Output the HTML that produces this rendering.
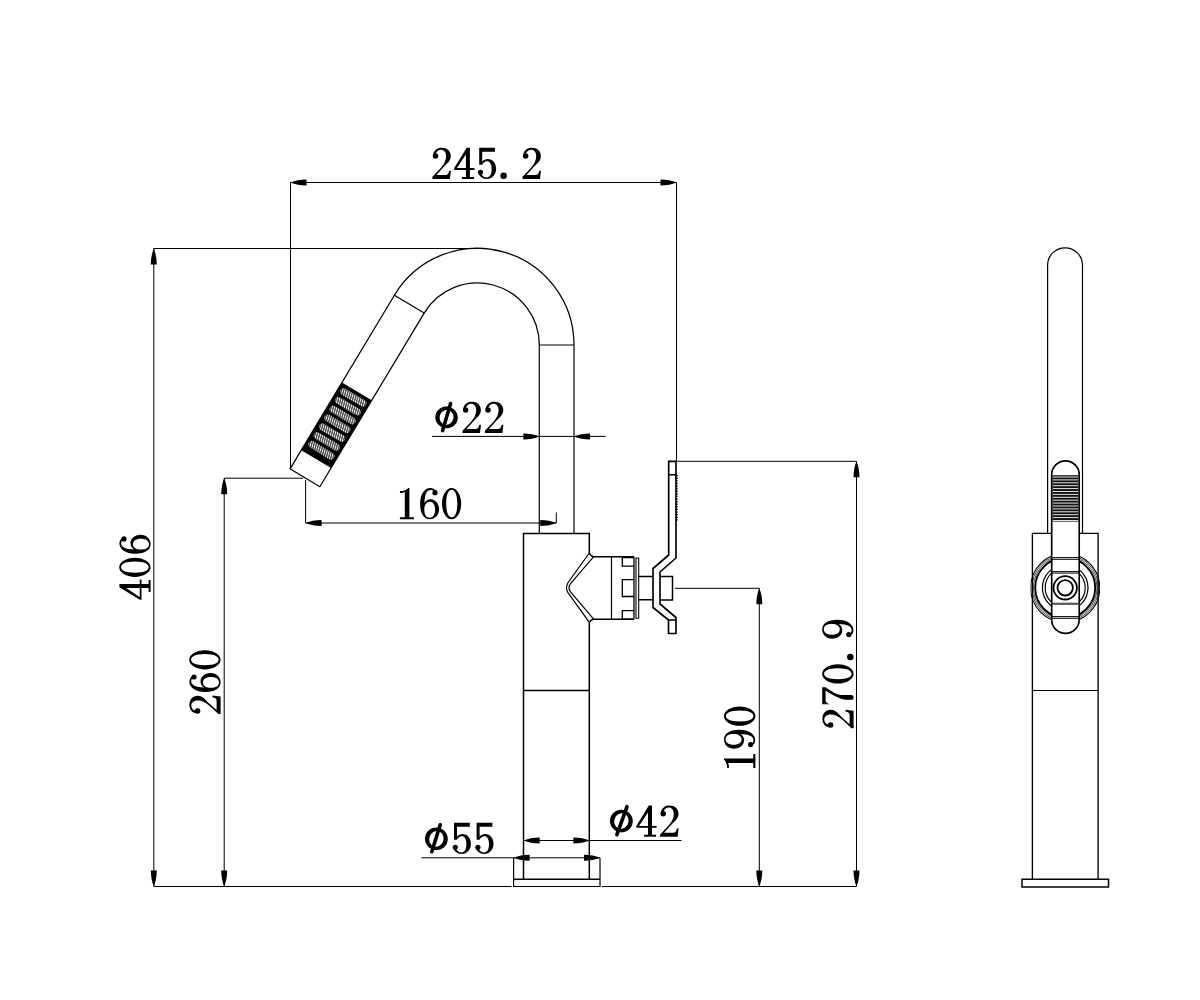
<!DOCTYPE html>
<html><head><meta charset="utf-8"><style>
html,body{margin:0;padding:0;background:#fff;}
svg{position:absolute;left:0;top:0;will-change:transform;}
text{font-family:"Liberation Serif",serif;font-size:48px;fill:#000;}
</style></head><body>
<svg width="1200" height="1000" viewBox="0 0 1200 1000">
<defs><g id="g0"><path fill-rule="evenodd" d="M9.6,0.2 C14.9,0.2 19.2,7.3 19.2,15.9 C19.2,24.5 14.9,31.6 9.6,31.6 C4.3,31.6 0,24.5 0,15.9 C0,7.3 4.3,0.2 9.6,0.2 Z M9.7,2.1 C7.0,2.1 4.2,5.6 4.2,15.9 C4.2,26.2 7.0,29.6 9.7,29.6 C12.4,29.6 15.3,26.2 15.3,15.9 C15.3,5.6 12.4,2.1 9.7,2.1 Z"/></g><g id="g1"><path d="M9.7,0.2 L9.7,29.5 C9.7,29.5 14.2,29.4 14.2,29.6 L14.2,31.6 L0.2,31.6 L0.2,29.6 C0.2,29.4 5.1,29.5 5.1,29.5 L5.1,4.2 C3.9,5.0 2.3,5.2 0.3,5.2 L0.2,3.4 C3.4,3.4 6.4,2.3 8.6,0.2 Z"/></g><g id="g2"><path d="M0.9,7.6 C1.3,3.0 5.0,0.4 9.5,0.4 C14.8,0.4 18.5,3.8 18.5,8.6 C18.5,12.9 15.6,15.6 12.0,18.8 L4.1,27.6 L13.4,27.6 C15.2,27.6 16.3,26.6 16.9,23.4 L18.6,23.4 L17.6,31.6 L0.1,31.6 L0.1,29.4 L8.0,21.0 C12.0,16.8 13.8,13.0 13.8,8.8 C13.8,4.6 11.6,2.3 8.8,2.3 C6.4,2.3 4.6,3.5 3.8,5.8 Z"/><circle cx="3.2" cy="8.6" r="2.75"/></g><g id="g4"><path fill-rule="evenodd" d="M12.5,0.4 L15.7,0.4 L15.7,20.7 L20.3,20.7 L20.3,22.5 L15.7,22.5 L15.7,29.6 L19.8,29.6 L19.8,31.6 L7.8,31.6 L7.8,29.6 L11.7,29.6 L11.7,22.5 L0,22.5 L0,20.7 Z M11.7,7.2 L11.7,20.7 L2.7,20.7 Z"/></g><g id="g5"><path d="M2.4,0.4 L17.4,0.4 L17.4,4.3 L4.6,4.3 L4.6,14.3 C6.1,12.5 8.0,11.5 10.2,11.5 C15.0,11.5 18.5,15.6 18.5,21.4 C18.5,27.4 14.6,31.6 9.2,31.6 C4.8,31.6 1.2,28.6 0.5,24.6 L3.0,24.4 C3.6,27.9 6.0,30.0 9.0,30.0 C12.4,30.0 14.0,27.0 14.0,21.4 C14.0,16.4 12.0,13.9 9.6,13.9 C7.4,13.9 5.6,15.3 4.5,17.3 L1.6,17.3 L1.6,0.4 Z"/><circle cx="2.9" cy="24.8" r="2.55"/></g><g id="g6"><path fill-rule="evenodd" d="M15.6,3.0 C14.6,1.2 12.6,0.4 10.3,0.4 C4.6,0.4 0.1,6.5 0.1,16.4 C0.1,26.0 4.2,31.6 9.6,31.6 C15.0,31.6 19.1,27.4 19.1,21.6 C19.1,15.8 15.1,11.5 10.6,11.5 C7.9,11.5 5.6,12.9 4.5,15.2 C4.6,6.6 7.0,2.2 10.4,2.2 C12.0,2.2 13.3,2.7 14.0,3.6 Z M9.6,14.0 C12.8,14.0 15.1,16.6 15.1,21.8 C15.1,27.0 13.0,30.0 9.6,30.0 C6.0,30.0 4.3,27.0 4.3,21.8 C4.3,17.3 6.3,14.0 9.6,14.0 Z"/><circle cx="15.0" cy="5.0" r="2.6"/></g><g id="g9"><g transform="translate(19.2,31.8) rotate(180)"><path fill-rule="evenodd" d="M15.6,3.0 C14.6,1.2 12.6,0.4 10.3,0.4 C4.6,0.4 0.1,6.5 0.1,16.4 C0.1,26.0 4.2,31.6 9.6,31.6 C15.0,31.6 19.1,27.4 19.1,21.6 C19.1,15.8 15.1,11.5 10.6,11.5 C7.9,11.5 5.6,12.9 4.5,15.2 C4.6,6.6 7.0,2.2 10.4,2.2 C12.0,2.2 13.3,2.7 14.0,3.6 Z M9.6,14.0 C12.8,14.0 15.1,16.6 15.1,21.8 C15.1,27.0 13.0,30.0 9.6,30.0 C6.0,30.0 4.3,27.0 4.3,21.8 C4.3,17.3 6.3,14.0 9.6,14.0 Z"/><circle cx="15.0" cy="5.0" r="2.6"/></g></g><g id="g7"><path d="M0.3,0.2 L17.4,0.2 L17.4,3.6 C13.6,9.0 10.0,14.5 9.6,19.2 L9.6,29.2 C9.5,30.8 8.5,31.6 7.2,31.6 C5.9,31.6 4.8,30.8 4.8,29.2 L4.9,24.0 C5.2,19.0 8.0,13.0 14.2,3.6 L3.8,3.6 C2.0,4.2 0.9,5.5 0.4,7.8 L0.3,7.8 Z"/></g><g id="gdot"><circle cx="3.2" cy="28.3" r="3.25"/></g><pattern id="hatch" width="2.2" height="4" patternUnits="userSpaceOnUse" patternTransform="rotate(-16)"><rect width="2.2" height="4" fill="#000"/><rect x="0.5" width="1.2" height="4" fill="#fff"/></pattern><clipPath id="clipout"><path d="M1030.5,540 H1051.7 V640 H1030.5 Z M1079.2,540 H1100 V640 H1079.2 Z"/></clipPath></defs>
<rect width="1200" height="1000" fill="#fff"/>
<line x1="290.5" y1="182.5" x2="676.5" y2="182.5" stroke="#000" stroke-width="1.0"/>
<path d="M290.5,182.5 Q297.22,179.65 306.50,179.50 L306.50,185.50 Q297.22,185.35 290.5,182.5 Z" fill="#000"/>
<path d="M676.5,182.5 Q669.78,185.35 660.50,185.50 L660.50,179.50 Q669.78,179.65 676.5,182.5 Z" fill="#000"/>
<line x1="290.5" y1="182.5" x2="290.5" y2="468" stroke="#000" stroke-width="1.0"/>
<line x1="676.5" y1="182.5" x2="676.5" y2="461.5" stroke="#000" stroke-width="1.0"/>
<use href="#g2" transform="translate(432.30,147.40)"/>
<use href="#g4" transform="translate(454.20,147.40)"/>
<use href="#g5" transform="translate(477.60,147.40)"/>
<use href="#gdot" transform="translate(500.40,147.40)"/>
<use href="#g2" transform="translate(522.40,147.40)"/>
<line x1="153.8" y1="248.5" x2="153.8" y2="886.5" stroke="#000" stroke-width="1.0"/>
<path d="M153.8,248.5 Q156.65,255.22 156.80,264.50 L150.80,264.50 Q150.95,255.22 153.8,248.5 Z" fill="#000"/>
<path d="M153.8,886.5 Q150.95,879.78 150.80,870.50 L156.80,870.50 Q156.65,879.78 153.8,886.5 Z" fill="#000"/>
<line x1="153.8" y1="248.5" x2="478" y2="248.5" stroke="#000" stroke-width="1.0"/>
<use href="#g4" transform="translate(119.00,599.80) rotate(-90)"/>
<use href="#g0" transform="translate(119.00,576.90) rotate(-90)"/>
<use href="#g6" transform="translate(119.00,553.90) rotate(-90)"/>
<line x1="224.2" y1="478.2" x2="224.2" y2="886.5" stroke="#000" stroke-width="1.0"/>
<path d="M224.2,478.2 Q227.05,484.92 227.20,494.20 L221.20,494.20 Q221.35,484.92 224.2,478.2 Z" fill="#000"/>
<path d="M224.2,886.5 Q221.35,879.78 221.20,870.50 L227.20,870.50 Q227.05,879.78 224.2,886.5 Z" fill="#000"/>
<line x1="224.2" y1="478.2" x2="303.0" y2="478.2" stroke="#000" stroke-width="1.0"/>
<use href="#g2" transform="translate(189.00,714.20) rotate(-90)"/>
<use href="#g6" transform="translate(189.00,692.00) rotate(-90)"/>
<use href="#g0" transform="translate(189.00,669.40) rotate(-90)"/>
<line x1="305.6" y1="480.0" x2="305.6" y2="523" stroke="#000" stroke-width="1.0"/>
<line x1="305.6" y1="523" x2="556.3" y2="523" stroke="#000" stroke-width="1.0"/>
<path d="M305.6,523 Q312.32,520.15 321.60,520.00 L321.60,526.00 Q312.32,525.85 305.6,523 Z" fill="#000"/>
<path d="M556.3,523 Q549.58,525.85 540.30,526.00 L540.30,520.00 Q549.58,520.15 556.3,523 Z" fill="#000"/>
<line x1="556.3" y1="512.5" x2="556.3" y2="523" stroke="#000" stroke-width="1.0"/>
<use href="#g1" transform="translate(399.70,487.70)"/>
<use href="#g6" transform="translate(420.00,487.70)"/>
<use href="#g0" transform="translate(442.00,487.70)"/>
<line x1="432" y1="436.4" x2="605.6" y2="436.4" stroke="#000" stroke-width="1.0"/>
<path d="M539.4,436.4 Q532.68,439.25 523.40,439.40 L523.40,433.40 Q532.68,433.55 539.4,436.4 Z" fill="#000"/>
<path d="M574,436.4 Q580.72,433.55 590.00,433.40 L590.00,439.40 Q580.72,439.25 574,436.4 Z" fill="#000"/>
<path d="M457.34,420.55 L456.84,421.88 L456.17,423.13 L455.34,424.28 L454.35,425.32 L453.23,426.22 L452.00,426.97 L450.67,427.55 L449.27,427.96 L447.83,428.18 L446.36,428.23 L444.90,428.08 L443.47,427.75 L442.09,427.25 L440.78,426.57 L439.57,425.74 L438.49,424.76 L437.54,423.66 L436.74,422.45 L436.12,421.15 L435.67,419.78 L435.41,418.38 L435.33,416.96 L435.45,415.54 L435.76,414.15 L436.26,412.82 L436.93,411.57 L437.76,410.42 L438.75,409.38 L439.87,408.48 L441.10,407.73 L442.43,407.15 L443.83,406.74 L445.27,406.52 L446.74,406.47 L448.20,406.62 L449.63,406.95 L451.01,407.45 L452.32,408.13 L453.53,408.96 L454.61,409.94 L455.56,411.04 L456.36,412.25 L456.98,413.55 L457.43,414.92 L457.69,416.32 L457.77,417.74 L457.65,419.16 Z M453.12,419.30 L452.79,420.21 L452.35,421.08 L451.81,421.88 L451.18,422.61 L450.47,423.24 L449.70,423.78 L448.87,424.20 L448.00,424.51 L447.11,424.69 L446.21,424.75 L445.31,424.69 L444.43,424.49 L443.59,424.18 L442.81,423.75 L442.08,423.20 L441.43,422.56 L440.87,421.83 L440.41,421.02 L440.05,420.15 L439.80,419.24 L439.67,418.29 L439.66,417.32 L439.76,416.35 L439.98,415.40 L440.31,414.49 L440.75,413.62 L441.29,412.82 L441.92,412.09 L442.63,411.46 L443.40,410.92 L444.23,410.50 L445.10,410.19 L445.99,410.01 L446.89,409.95 L447.79,410.01 L448.67,410.21 L449.51,410.52 L450.29,410.95 L451.02,411.50 L451.67,412.14 L452.23,412.87 L452.69,413.68 L453.05,414.55 L453.30,415.46 L453.43,416.41 L453.44,417.38 L453.34,418.35 Z" fill="#000" fill-rule="evenodd"/>
<line x1="450.6" y1="403.6" x2="442.6" y2="430.6" stroke="#000" stroke-width="3.6" stroke-linecap="round"/>
<use href="#g2" transform="translate(462.40,401.40)"/>
<use href="#g2" transform="translate(484.80,401.40)"/>
<line x1="759.3" y1="588.3" x2="759.3" y2="886.5" stroke="#000" stroke-width="1.0"/>
<path d="M759.3,588.3 Q762.15,595.02 762.30,604.30 L756.30,604.30 Q756.45,595.02 759.3,588.3 Z" fill="#000"/>
<path d="M759.3,886.5 Q756.45,879.78 756.30,870.50 L762.30,870.50 Q762.15,879.78 759.3,886.5 Z" fill="#000"/>
<line x1="675" y1="588.3" x2="759.3" y2="588.3" stroke="#000" stroke-width="1.0"/>
<use href="#g1" transform="translate(723.80,768.20) rotate(-90)"/>
<use href="#g9" transform="translate(723.80,748.80) rotate(-90)"/>
<use href="#g0" transform="translate(723.80,725.80) rotate(-90)"/>
<line x1="856.5" y1="461.3" x2="856.5" y2="886.5" stroke="#000" stroke-width="1.0"/>
<path d="M856.5,461.3 Q859.35,468.02 859.50,477.30 L853.50,477.30 Q853.65,468.02 856.5,461.3 Z" fill="#000"/>
<path d="M856.5,886.5 Q853.65,879.78 853.50,870.50 L859.50,870.50 Q859.35,879.78 856.5,886.5 Z" fill="#000"/>
<line x1="676" y1="461.3" x2="856.5" y2="461.3" stroke="#000" stroke-width="1.0"/>
<use href="#g2" transform="translate(822.00,728.30) rotate(-90)"/>
<use href="#g7" transform="translate(822.00,704.60) rotate(-90)"/>
<use href="#g0" transform="translate(822.00,683.50) rotate(-90)"/>
<use href="#gdot" transform="translate(822.00,660.10) rotate(-90)"/>
<use href="#g9" transform="translate(822.00,638.80) rotate(-90)"/>
<line x1="153.8" y1="886.5" x2="511.5" y2="886.5" stroke="#000" stroke-width="1.0"/>
<line x1="602" y1="886.5" x2="856.5" y2="886.5" stroke="#000" stroke-width="1.0"/>
<line x1="523.7" y1="840.5" x2="681.5" y2="840.5" stroke="#000" stroke-width="1.0"/>
<path d="M523.7,840.5 Q530.42,837.65 539.70,837.50 L539.70,843.50 Q530.42,843.35 523.7,840.5 Z" fill="#000"/>
<path d="M589.4,840.5 Q582.68,843.35 573.40,843.50 L573.40,837.50 Q582.68,837.65 589.4,840.5 Z" fill="#000"/>
<path d="M632.13,824.91 L631.54,826.26 L630.78,827.52 L629.85,828.67 L628.78,829.69 L627.59,830.56 L626.29,831.27 L624.90,831.80 L623.46,832.15 L621.97,832.31 L620.48,832.28 L619.01,832.05 L617.57,831.64 L616.20,831.04 L614.92,830.28 L613.74,829.35 L612.70,828.29 L611.81,827.10 L611.08,825.80 L610.53,824.43 L610.16,823.00 L609.99,821.53 L610.00,820.06 L610.22,818.60 L610.62,817.19 L611.21,815.84 L611.97,814.58 L612.90,813.43 L613.97,812.41 L615.16,811.54 L616.46,810.83 L617.85,810.30 L619.29,809.95 L620.78,809.79 L622.27,809.82 L623.74,810.05 L625.18,810.46 L626.55,811.06 L627.83,811.82 L629.01,812.75 L630.05,813.81 L630.94,815.00 L631.67,816.30 L632.22,817.67 L632.59,819.10 L632.76,820.57 L632.75,822.04 L632.53,823.50 Z M627.99,823.43 L627.58,824.37 L627.07,825.26 L626.47,826.07 L625.77,826.80 L625.00,827.43 L624.17,827.95 L623.29,828.36 L622.38,828.64 L621.45,828.78 L620.52,828.80 L619.61,828.68 L618.72,828.44 L617.88,828.06 L617.10,827.57 L616.39,826.97 L615.77,826.26 L615.24,825.46 L614.82,824.59 L614.51,823.66 L614.32,822.69 L614.25,821.68 L614.30,820.67 L614.47,819.66 L614.76,818.67 L615.17,817.73 L615.68,816.84 L616.28,816.03 L616.98,815.30 L617.75,814.67 L618.58,814.15 L619.46,813.74 L620.37,813.46 L621.30,813.32 L622.23,813.30 L623.14,813.42 L624.03,813.66 L624.87,814.04 L625.65,814.53 L626.36,815.13 L626.98,815.84 L627.51,816.64 L627.93,817.51 L628.24,818.44 L628.43,819.41 L628.50,820.42 L628.45,821.43 L628.28,822.44 Z" fill="#000" fill-rule="evenodd"/>
<line x1="627.0" y1="806.6" x2="616.9" y2="834.7" stroke="#000" stroke-width="3.6" stroke-linecap="round"/>
<use href="#g4" transform="translate(636.30,805.20)"/>
<use href="#g2" transform="translate(660.00,805.20)"/>
<line x1="421.5" y1="857.8" x2="600" y2="857.8" stroke="#000" stroke-width="1.0"/>
<path d="M513.6,857.8 Q520.32,854.95 529.60,854.80 L529.60,860.80 Q520.32,860.65 513.6,857.8 Z" fill="#000"/>
<path d="M600,857.8 Q593.28,860.65 584.00,860.80 L584.00,854.80 Q593.28,854.95 600,857.8 Z" fill="#000"/>
<path d="M447.28,842.26 L446.75,843.63 L446.04,844.92 L445.17,846.11 L444.14,847.17 L442.99,848.09 L441.72,848.85 L440.35,849.44 L438.92,849.85 L437.45,850.07 L435.96,850.10 L434.47,849.94 L433.02,849.59 L431.63,849.05 L430.31,848.34 L429.10,847.47 L428.02,846.45 L427.08,845.30 L426.29,844.04 L425.68,842.69 L425.25,841.27 L425.02,839.81 L424.97,838.34 L425.12,836.88 L425.47,835.44 L426.00,834.07 L426.71,832.78 L427.58,831.59 L428.61,830.53 L429.76,829.61 L431.03,828.85 L432.40,828.26 L433.83,827.85 L435.30,827.63 L436.79,827.60 L438.28,827.76 L439.73,828.11 L441.12,828.65 L442.44,829.36 L443.65,830.23 L444.73,831.25 L445.67,832.40 L446.46,833.66 L447.07,835.01 L447.50,836.43 L447.73,837.89 L447.78,839.36 L447.63,840.82 Z M443.08,840.94 L442.72,841.90 L442.25,842.81 L441.67,843.65 L441.01,844.41 L440.27,845.07 L439.46,845.63 L438.60,846.07 L437.70,846.39 L436.78,846.57 L435.85,846.63 L434.93,846.55 L434.04,846.34 L433.18,846.01 L432.38,845.55 L431.65,844.97 L431.00,844.29 L430.44,843.52 L429.98,842.67 L429.63,841.75 L429.40,840.78 L429.28,839.78 L429.29,838.77 L429.42,837.75 L429.67,836.76 L430.03,835.80 L430.50,834.89 L431.08,834.05 L431.74,833.29 L432.48,832.63 L433.29,832.07 L434.15,831.63 L435.05,831.31 L435.97,831.13 L436.90,831.07 L437.82,831.15 L438.71,831.36 L439.57,831.69 L440.37,832.15 L441.10,832.73 L441.75,833.41 L442.31,834.18 L442.77,835.03 L443.12,835.95 L443.35,836.92 L443.47,837.92 L443.46,838.93 L443.33,839.95 Z" fill="#000" fill-rule="evenodd"/>
<line x1="440.2" y1="824.8" x2="431.8" y2="851.7" stroke="#000" stroke-width="3.6" stroke-linecap="round"/>
<use href="#g5" transform="translate(452.40,822.40)"/>
<use href="#g5" transform="translate(475.00,822.40)"/>
<path d="M574.0,345.0 A96.7,96.7 0 0 0 394.41,295.20 L290.07,468.82 L319.82,486.70 L424.16,313.07 A62.0,62.0 0 0 1 539.3,345.0" fill="none" stroke="#000" stroke-width="1.25" />
<line x1="394.41" y1="295.20" x2="424.16" y2="313.07" stroke="#000" stroke-width="1.25"/>
<line x1="574.0" y1="345.0" x2="574.0" y2="533.6" stroke="#000" stroke-width="1.2"/>
<line x1="539.3" y1="345.0" x2="539.3" y2="533.6" stroke="#000" stroke-width="1.2"/>
<line x1="539.3" y1="345.0" x2="574.0" y2="345.0" stroke="#000" stroke-width="1.2"/>
<path d="M341.98,382.44 L371.73,400.31 L331.04,468.01 L301.30,450.14 Z" fill="#000"/>
<rect x="-14.62" y="-3.50" width="29.23" height="6.99" rx="3.50" ry="3.50" fill="url(#hatch)" transform="translate(353.25,397.37) rotate(31.00)"/>
<rect x="-14.62" y="-3.50" width="29.23" height="6.99" rx="3.50" ry="3.50" fill="url(#hatch)" transform="translate(347.96,406.19) rotate(31.00)"/>
<rect x="-14.62" y="-3.50" width="29.23" height="6.99" rx="3.50" ry="3.50" fill="url(#hatch)" transform="translate(342.66,415.00) rotate(31.00)"/>
<rect x="-14.62" y="-3.50" width="29.23" height="6.99" rx="3.50" ry="3.50" fill="url(#hatch)" transform="translate(337.36,423.82) rotate(31.00)"/>
<rect x="-14.62" y="-3.50" width="29.23" height="6.99" rx="3.50" ry="3.50" fill="url(#hatch)" transform="translate(332.06,432.63) rotate(31.00)"/>
<rect x="-14.62" y="-3.50" width="29.23" height="6.99" rx="3.50" ry="3.50" fill="url(#hatch)" transform="translate(326.77,441.45) rotate(31.00)"/>
<rect x="-14.62" y="-3.50" width="29.23" height="6.99" rx="3.50" ry="3.50" fill="url(#hatch)" transform="translate(321.47,450.26) rotate(31.00)"/>
<path d="M589.3,553 L589.3,533.6 L523.5,533.6 L523.5,879.2" fill="none" stroke="#000" stroke-width="1.5" />
<path d="M589.3,622.4 L589.3,879.2" fill="none" stroke="#000" stroke-width="1.5" />
<line x1="523.5" y1="690.5" x2="589.3" y2="690.5" stroke="#000" stroke-width="1.3"/>
<path d="M513.6,857.8 L513.6,886.5 L600,886.5 L600,857.8" fill="none" stroke="#000" stroke-width="1.2000000000000002" />
<line x1="513.6" y1="879.2" x2="600" y2="879.2" stroke="#000" stroke-width="1.5"/>
<path d="M589.3,553 Q591,556.7 593.7,556.7 L634.2,556.7" fill="none" stroke="#000" stroke-width="1.5" />
<path d="M589.3,622.4 Q591,619.2 593.7,619.2 L634.2,619.2" fill="none" stroke="#000" stroke-width="1.5" />
<path d="M589.3,553 L567.8,583 Q565.2,587.7 567.8,592.4 L589.3,622.4" fill="none" stroke="#000" stroke-width="1.2000000000000002" />
<path d="M593.7,556.7 L570.5,583.5 Q567.6,587.7 570.5,591.9 L593.7,619.2" fill="none" stroke="#000" stroke-width="1.2000000000000002" />
<line x1="611.5" y1="556.7" x2="611.5" y2="619.2" stroke="#000" stroke-width="1.2000000000000002"/>
<path d="M634.0,557.5 L622.3,557.5 L622.3,566.1 L634.0,566.1" fill="none" stroke="#000" stroke-width="1.3" />
<path d="M634.0,579.6 L622.3,579.6 L622.3,596.5 L634.0,596.5" fill="none" stroke="#000" stroke-width="1.3" />
<path d="M634.0,610.7 L622.3,610.7 L622.3,619.2 L634.0,619.2" fill="none" stroke="#000" stroke-width="1.3" />
<path d="M634.0,557.2 L634.0,618.8" fill="none" stroke="#000" stroke-width="1.3" />
<path d="M636.0,558 L638.7,558 L638.7,618.3 L636.0,618.3 Z" fill="none" stroke="#000" stroke-width="1.1" />
<path d="M638.7,576.5 L653,576.5 M638.7,599.7 L653,599.7" fill="none" stroke="#000" stroke-width="1.5" />
<path d="M660,576.5 L672.5,576.5 L672.5,600 L660,600" fill="none" stroke="#000" stroke-width="1.5" />
<path d="M668.7,461.3 L668.7,555 L653,568.5 L653,607.5 L668.5,620 L668.5,633.5 L676,633.5 L676,617.5 L660,604 L660,572 L676,558 L676,461.3 Z" fill="none" stroke="#000" stroke-width="1.6500000000000001" />
<line x1="668.7" y1="474.8" x2="676" y2="474.8" stroke="#000" stroke-width="1.5"/>
<line x1="668.5" y1="620" x2="676" y2="620" stroke="#000" stroke-width="1.5"/>
<line x1="676.6" y1="475" x2="676.6" y2="521" stroke="#000" stroke-width="2.2" stroke-dasharray="1.3,1.3"/>
<path d="M1047.6,533.3 L1047.6,265.25 A17.45,17.45 0 0 1 1082.5,265.25 L1082.5,533.3" fill="none" stroke="#000" stroke-width="1.2000000000000002" />
<path d="M1032.4,879.3 L1032.4,533.3 L1051.7,533.3 M1079.2,533.3 L1098.1,533.3 L1098.1,879.3" fill="none" stroke="#000" stroke-width="1.35" />
<line x1="1032.4" y1="690.5" x2="1098.1" y2="690.5" stroke="#000" stroke-width="1.2000000000000002"/>
<path d="M1022,879.3 L1108.5,879.3 L1108.5,887 L1022,887 Z" fill="none" stroke="#000" stroke-width="1.5" />
<g clip-path="url(#clipout)">
<circle cx="1065.2" cy="587.8" r="20.0" fill="none" stroke="#000" stroke-width="1.2"/>
<circle cx="1065.2" cy="587.8" r="22.8" fill="none" stroke="#000" stroke-width="1.2"/>
<circle cx="1065.2" cy="587.8" r="30.0" fill="none" stroke="#000" stroke-width="1.9"/>
<circle cx="1065.2" cy="587.8" r="31.8" fill="none" stroke="#000" stroke-width="0.7"/>
<circle cx="1065.2" cy="587.8" r="33.2" fill="none" stroke="#000" stroke-width="0.7"/>
<circle cx="1065.2" cy="587.8" r="34.6" fill="none" stroke="#000" stroke-width="1.1"/>
</g>
<path d="M1051.7,619.65 L1051.7,474.55 A13.75,13.75 0 0 1 1079.2,474.55 L1079.2,619.65 A13.75,13.75 0 0 1 1051.7,619.65 Z" fill="#fff" stroke="#000" stroke-width="1.6500000000000001" />
<rect x="1052.5" y="475.2" width="26" height="46.4" fill="#111"/>
<line x1="1053" y1="477.00" x2="1078" y2="477.00" stroke="#fff" stroke-width="0.9"/>
<line x1="1053" y1="479.90" x2="1078" y2="479.90" stroke="#fff" stroke-width="0.9"/>
<line x1="1053" y1="482.80" x2="1078" y2="482.80" stroke="#fff" stroke-width="0.9"/>
<line x1="1053" y1="485.70" x2="1078" y2="485.70" stroke="#fff" stroke-width="0.9"/>
<line x1="1053" y1="488.60" x2="1078" y2="488.60" stroke="#fff" stroke-width="0.9"/>
<line x1="1053" y1="491.50" x2="1078" y2="491.50" stroke="#fff" stroke-width="0.9"/>
<line x1="1053" y1="494.40" x2="1078" y2="494.40" stroke="#fff" stroke-width="0.9"/>
<line x1="1053" y1="497.30" x2="1078" y2="497.30" stroke="#fff" stroke-width="0.9"/>
<line x1="1053" y1="500.20" x2="1078" y2="500.20" stroke="#fff" stroke-width="0.9"/>
<line x1="1053" y1="503.10" x2="1078" y2="503.10" stroke="#fff" stroke-width="0.9"/>
<line x1="1053" y1="506.00" x2="1078" y2="506.00" stroke="#fff" stroke-width="0.9"/>
<line x1="1053" y1="508.90" x2="1078" y2="508.90" stroke="#fff" stroke-width="0.9"/>
<line x1="1053" y1="511.80" x2="1078" y2="511.80" stroke="#fff" stroke-width="0.9"/>
<line x1="1053" y1="514.70" x2="1078" y2="514.70" stroke="#fff" stroke-width="0.9"/>
<line x1="1053" y1="517.60" x2="1078" y2="517.60" stroke="#fff" stroke-width="0.9"/>
<line x1="1053" y1="520.50" x2="1078" y2="520.50" stroke="#fff" stroke-width="0.9"/>
<line x1="1051.7" y1="557.6" x2="1079.2" y2="557.6" stroke="#000" stroke-width="1.0"/>
<line x1="1051.7" y1="559.3" x2="1079.2" y2="559.3" stroke="#000" stroke-width="1.0"/>
<line x1="1051.7" y1="571.6" x2="1079.2" y2="571.6" stroke="#000" stroke-width="1.0"/>
<line x1="1051.7" y1="573.1" x2="1079.2" y2="573.1" stroke="#000" stroke-width="1.0"/>
<line x1="1051.7" y1="603.8" x2="1079.2" y2="603.8" stroke="#555" stroke-width="2.2"/>
<line x1="1051.7" y1="616.6" x2="1079.2" y2="616.6" stroke="#000" stroke-width="1.0"/>
<line x1="1051.7" y1="618.3" x2="1079.2" y2="618.3" stroke="#000" stroke-width="1.0"/>
<circle cx="1065.2" cy="587.8" r="7.7" fill="none" stroke="#000" stroke-width="1.8"/>
<circle cx="1065.2" cy="587.8" r="11.7" fill="none" stroke="#000" stroke-width="1.8"/>
</svg></body></html>
